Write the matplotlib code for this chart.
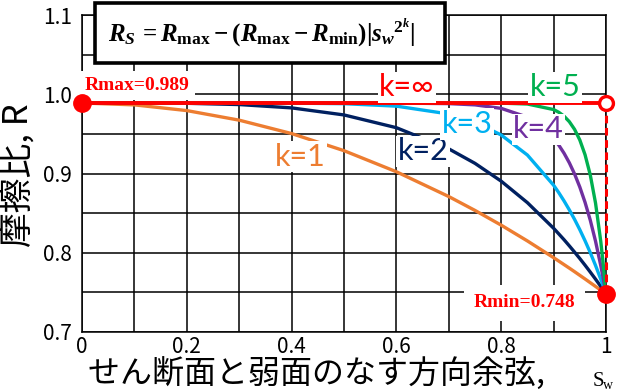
import matplotlib
matplotlib.use("Agg")
import matplotlib.pyplot as plt
from matplotlib.patches import Rectangle
from matplotlib.ticker import MultipleLocator

# 読み取り値 (方向余弦 sw と摩擦比 R)
sw = [0, 0.1, 0.2, 0.3, 0.4, 0.5, 0.6, 0.7, 0.75, 0.8, 0.85, 0.9, 0.91, 0.92,
      0.93, 0.94, 0.95, 0.96, 0.97, 0.98, 0.99, 0.995, 1.0]
r_k1 = [0.989, 0.9866, 0.9794, 0.9673, 0.9504, 0.9288, 0.9022, 0.8709, 0.8534, 0.8348, 0.8149, 0.7938,
        0.7894, 0.7850, 0.7806, 0.7761, 0.7715, 0.7669, 0.7622, 0.7575, 0.7528, 0.7504, 0.748]
r_k2 = [0.989, 0.989, 0.9886, 0.9870, 0.9828, 0.9739, 0.9578, 0.9311, 0.9128, 0.8903, 0.8632, 0.8309,
        0.8237, 0.8164, 0.8087, 0.8008, 0.7927, 0.7843, 0.7756, 0.7667, 0.7575, 0.7528, 0.748]
r_k3 = [0.989, 0.989, 0.989, 0.989, 0.9888, 0.9881, 0.9850, 0.9751, 0.9649, 0.9486, 0.9233, 0.8852,
        0.8757, 0.8653, 0.8541, 0.8421, 0.8291, 0.8151, 0.8001, 0.7840, 0.7666, 0.7575, 0.748]
r_k4 = [0.989, 0.989, 0.989, 0.989, 0.989, 0.989, 0.9889, 0.9882, 0.9866, 0.9822, 0.9711, 0.9443,
        0.9357, 0.9255, 0.9135, 0.8994, 0.8829, 0.8636, 0.8410, 0.8146, 0.7838, 0.7666, 0.748]
r_k5 = [0.989, 0.989, 0.989, 0.989, 0.989, 0.989, 0.989, 0.989, 0.989, 0.9888, 0.9877, 0.9807,
        0.9772, 0.9723, 0.9654, 0.9557, 0.9423, 0.9237, 0.8981, 0.8627, 0.8143, 0.7837, 0.748]
r_max = 0.989
r_min = 0.748

curves = [
    (r_k1, "#ED7D31", "k=1", 0.416, 0.921),
    (r_k2, "#002060", "k=2", 0.651, 0.928),
    (r_k3, "#00B0F0", "k=3", 0.735, 0.9625),
    (r_k4, "#7030A0", "k=4", 0.871, 0.956),
    (r_k5, "#00B050", "k=5", 0.903, 1.009),
]

plt.rcParams["mathtext.fontset"] = "custom"
plt.rcParams["mathtext.it"] = "Liberation Serif:bold:italic"
plt.rcParams["mathtext.rm"] = "Liberation Serif:bold"
plt.rcParams["mathtext.bf"] = "Liberation Serif:bold"
jp = ["Noto Sans CJK JP", "DejaVu Sans"]

fig = plt.figure(figsize=(6.18, 3.91), dpi=100)
ax = fig.add_axes([0.1327, 0.1509, 0.8479, 0.8107])

for vals, col, lab, tx, ty in curves:
    ax.plot(sw, vals, color=col, lw=2.4, zorder=3, solid_capstyle="butt")
    ax.text(tx, ty, lab, color=col, fontsize=22, family="Lato", ha="center", va="center", zorder=6,
            bbox=dict(boxstyle="square,pad=0.05", fc="white", ec="none"))

# k=∞
ax.plot([0, 1], [r_max, r_max], color="red", lw=2.8, zorder=4)
ax.plot([1, 1], [r_max, r_min], color="red", lw=2.2, ls=(0, (2.5, 1.5)), zorder=4, clip_on=False)
ax.text(0.620, 1.009, "k=∞", color="red", fontsize=22, family=["Lato", "DejaVu Sans"], ha="center", va="center",
        zorder=6, bbox=dict(boxstyle="square,pad=0.05", fc="white", ec="none"))
ax.plot([0], [r_max], "o", color="red", ms=12.5, zorder=7, clip_on=False)
ax.plot([1], [r_min], "o", color="red", ms=12.5, zorder=7, clip_on=False)
ax.plot([1], [r_max], "o", mfc="white", mec="red", mew=2.4, ms=10, zorder=7, clip_on=False)

ax.text(0.005, 1.0, "Rmax=0.989", color="red", fontsize=14, family="Liberation Serif", fontweight="bold",
        ha="left", va="bottom", zorder=5, bbox=dict(boxstyle="square,pad=0.3", fc="white", ec="none"))
ax.text(0.845, 0.7366, "Rmin=0.748", color="red", fontsize=14, family="Liberation Serif", fontweight="bold",
        ha="center", va="center", zorder=5, bbox=dict(boxstyle="square,pad=0.5", fc="white", ec="none"))

ax.set_xlim(0, 1)
ax.set_ylim(0.7, 1.1)
ax.xaxis.set_minor_locator(MultipleLocator(0.1))
ax.yaxis.set_minor_locator(MultipleLocator(0.05))
ax.set_xticks([0, 0.2, 0.4, 0.6, 0.8, 1.0])
ax.set_xticklabels(["0", "0.2", "0.4", "0.6", "0.8", "1"])
ax.set_yticks([0.7, 0.8, 0.9, 1.0, 1.1])
ax.set_yticklabels(["0.7", "0.8", "0.9", "1.0", "1.1"])
ax.grid(which="both", color="black", lw=1.1)
ax.set_axisbelow(True)
ax.tick_params(which="both", length=0, labelsize=15)
ax.tick_params(axis="x", pad=3)
ax.tick_params(axis="y", pad=7)
for lbl in ax.get_xticklabels() + ax.get_yticklabels():
    lbl.set_family(jp)
for sp in ax.spines.values():
    sp.set_color("black")
    sp.set_linewidth(1.1)

# 式のボックス
fig.patches.append(Rectangle((95 / 618, 1 - 63 / 391), 350 / 618, 60 / 391, transform=fig.transFigure,
                             fc="white", ec="black", lw=2.6, zorder=8))
fig.text(262 / 618, 1 - 33 / 391,
         r"$R_S\,=R_{\mathrm{max}}-(R_{\mathrm{max}}-R_{\mathrm{min}})|s_w{}^{2^k}|$",
         fontsize=18, ha="center", va="center", zorder=9)

fig.text(18 / 618, 1 - 175 / 391, "摩擦比, R", rotation=90, fontsize=25, family=jp, ha="center", va="center")
fig.text(88 / 618, 1 - 358 / 391, "せん断面と弱面のなす方向余弦, ", fontsize=23, family=jp, ha="left", va="top")
fig.text(593 / 618, 1 - 386 / 391, "S", fontsize=15, family="Liberation Serif", ha="left", va="baseline")
fig.text(603 / 618, 1 - 389 / 391, "w", fontsize=10, family="Liberation Serif", ha="left", va="baseline")

fig.savefig("out.png", dpi=100)
